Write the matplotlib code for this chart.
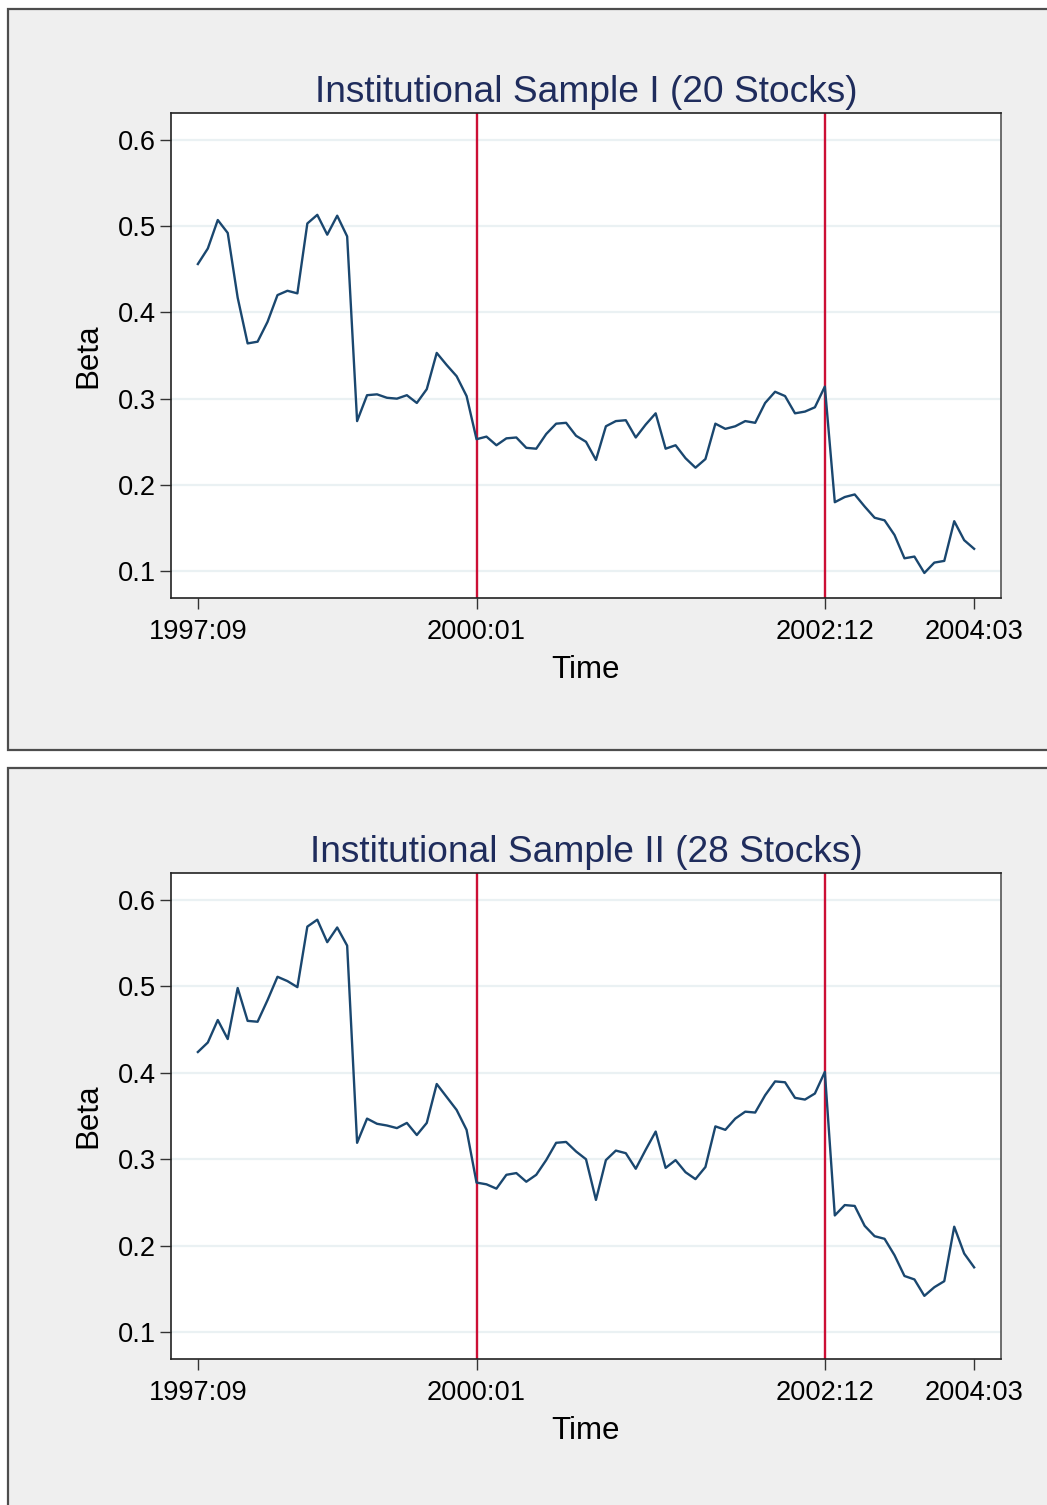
import matplotlib
matplotlib.use("Agg")
import matplotlib.pyplot as plt
from matplotlib.patches import Rectangle
import numpy as np

plt.rcParams["font.family"] = ["Liberation Sans", "DejaVu Sans"]

# monthly observations, 1997:09 .. 2004:03 (79 months)
months = np.arange(79)
beta_sample1 = [
    0.456, 0.474, 0.507, 0.492, 0.417, 0.364, 0.366, 0.389, 0.420, 0.425,
    0.422, 0.503, 0.513, 0.490, 0.512, 0.488, 0.274, 0.304, 0.305, 0.301,
    0.300, 0.304, 0.295, 0.311, 0.353, 0.339, 0.326, 0.303, 0.253, 0.256,
    0.246, 0.254, 0.255, 0.243, 0.242, 0.259, 0.271, 0.272, 0.257, 0.250,
    0.229, 0.268, 0.274, 0.275, 0.255, 0.270, 0.283, 0.242, 0.246, 0.231,
    0.220, 0.230, 0.271, 0.265, 0.268, 0.274, 0.272, 0.295, 0.308, 0.303,
    0.283, 0.285, 0.290, 0.314, 0.180, 0.186, 0.189, 0.175, 0.162, 0.159,
    0.142, 0.115, 0.117, 0.098, 0.110, 0.112, 0.158, 0.136, 0.126,
]
beta_sample2 = [
    0.424, 0.435, 0.461, 0.439, 0.498, 0.460, 0.459, 0.484, 0.511, 0.506,
    0.499, 0.569, 0.577, 0.551, 0.568, 0.547, 0.319, 0.347, 0.341, 0.339,
    0.336, 0.342, 0.328, 0.342, 0.387, 0.372, 0.357, 0.334, 0.273, 0.271,
    0.266, 0.282, 0.284, 0.274, 0.282, 0.299, 0.319, 0.320, 0.309, 0.300,
    0.253, 0.299, 0.310, 0.307, 0.289, 0.311, 0.332, 0.290, 0.299, 0.285,
    0.277, 0.291, 0.338, 0.334, 0.347, 0.355, 0.354, 0.374, 0.390, 0.389,
    0.371, 0.369, 0.376, 0.401, 0.235, 0.247, 0.246, 0.223, 0.211, 0.208,
    0.189, 0.165, 0.161, 0.142, 0.152, 0.159, 0.222, 0.191, 0.175,
]
titles = ["Institutional Sample I (20 Stocks)", "Institutional Sample II (28 Stocks)"]
xtick_pos = [0, 28, 63, 78]
xtick_labels = ["1997:09", "2000:01", "2002:12", "2004:03"]
break_months = [28, 63]
yticks = [0.1, 0.2, 0.3, 0.4, 0.5, 0.6]

W, H = 1047, 1505
fig = plt.figure(figsize=(W / 100, H / 100), dpi=100)
fig.patch.set_facecolor("white")

line_color = "#1a476f"
red = "#cc0f35"
title_color = "#1f2c5c"


def px_x(x):
    return x / W


def px_y(y):
    return 1 - y / H


def draw_panel(series, title, top_px, ax_top, ax_bot, box_bot):
    # outer gray panel
    fig.patches.append(Rectangle((px_x(8), px_y(box_bot)), px_x(1100 - 8), px_y(top_px) - px_y(box_bot),
                                 transform=fig.transFigure, facecolor="#efefef",
                                 edgecolor="#4d4d4d", linewidth=1.6, zorder=-10))
    ax = fig.add_axes([px_x(171), px_y(ax_bot), px_x(1001 - 171), px_y(ax_top) - px_y(ax_bot)])
    ax.set_zorder(5)
    ax.set_facecolor("white")
    for y in yticks:
        ax.axhline(y, color="#eaf1f3", linewidth=1.6, zorder=1)
    for m in break_months:
        ax.axvline(m, color=red, linewidth=1.7, zorder=2)
    ax.plot(months, series, color=line_color, linewidth=1.7, zorder=3)
    ax.set_xlim(-2.7, 80.7)
    ax.set_ylim(0.069, 0.631)
    ax.set_yticks(yticks)
    ax.set_yticklabels([f"{v:.1f}" for v in yticks])
    ax.set_xticks(xtick_pos)
    ax.set_xticklabels(xtick_labels)
    ax.tick_params(axis="both", labelsize=19.6, length=8, width=1, color="#333333")
    ax.tick_params(axis="x", pad=7)
    ax.tick_params(axis="y", pad=3)
    for s in ax.spines.values():
        s.set_color("#222222")
        s.set_linewidth(1.2)
    ax.spines["right"].set_color("#555555")
    mid = (ax_top + ax_bot) / 2
    fig.text(px_x(586), px_y(ax_top - 21), title, ha="center", va="center",
             fontsize=26.7, color=title_color)
    fig.text(px_x(88), px_y(mid), "Beta", ha="center", va="center", rotation=90,
             fontsize=22.5, color="black")
    fig.text(px_x(586), px_y(ax_bot + 72), "Time", ha="center", va="center",
             fontsize=22.5, color="black")
    return ax


draw_panel(beta_sample1, titles[0], 9, 113, 598, 750)
draw_panel(beta_sample2, titles[1], 768, 873, 1359, 1600)

fig.savefig("out.png", dpi=100)
